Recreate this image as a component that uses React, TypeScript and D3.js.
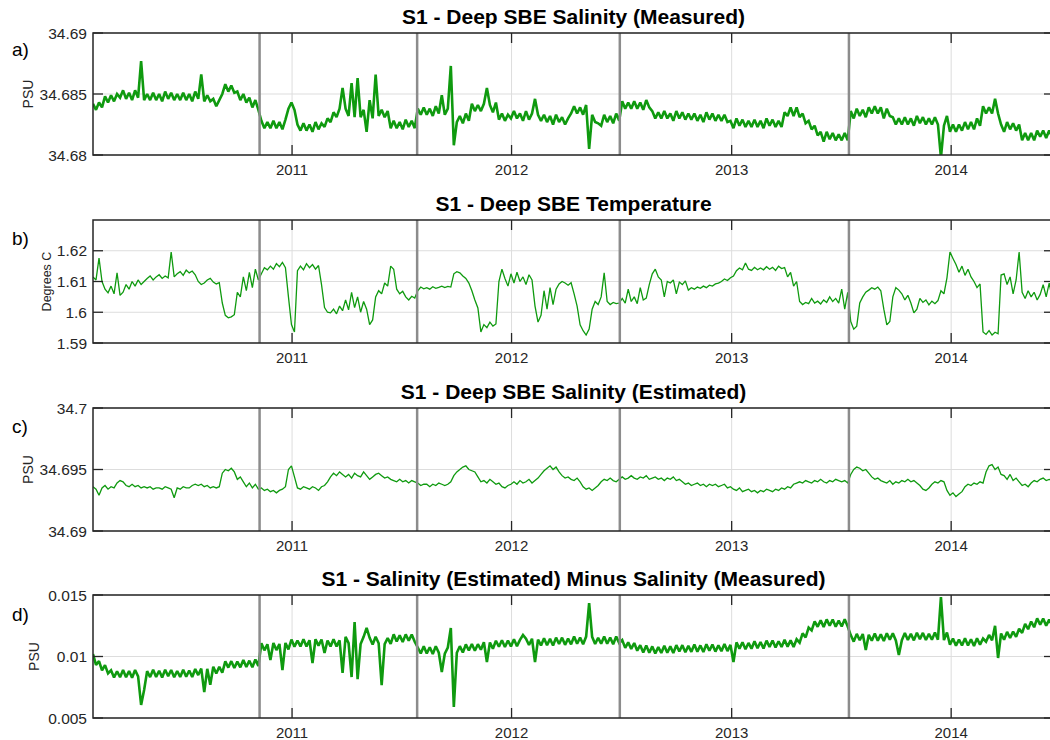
import React from 'react';
import * as d3 from 'd3';

// samples every 5 days from 2010-02-04
const SAMPLE_START = new Date(Date.UTC(2010, 1, 4));
const SAMPLE_STEP_DAYS = 5;

const yearTicks = ['2011-01-01', '2012-01-01', '2013-01-01', '2014-01-01'];
const yearLabels = ['2011', '2012', '2013', '2014'];
// mooring turn-around dates (thick grey lines)
const deploymentDates = ['2010-11-08', '2011-07-28', '2012-06-29', '2013-07-15'];

const titles = [
  'S1 - Deep SBE Salinity (Measured)',
  'S1 - Deep SBE Temperature',
  'S1 - Deep SBE Salinity (Estimated)',
  'S1 - Salinity (Estimated) Minus Salinity (Measured)',
];
const panelLabels = ['a)', 'b)', 'c)', 'd)'];
const yLabels = ['PSU', 'Degrees C', 'PSU', 'PSU'];

const ticksA = [34.68, 34.685, 34.69];
const ticksB = [1.59, 1.6, 1.61, 1.62];
const ticksC = [34.69, 34.695, 34.7];
const ticksD = [0.005, 0.01, 0.015];

const salinityMeasured = [
  34.6842, 34.6837, 34.6843, 34.6839, 34.6848, 34.6843, 34.6849, 34.6844, 34.685, 34.6847,
  34.6853, 34.6846, 34.6851, 34.6845, 34.6853, 34.6847, 34.6877, 34.6845, 34.685, 34.6845,
  34.6851, 34.6845, 34.685, 34.6844, 34.6852, 34.6846, 34.6851, 34.6845, 34.685, 34.6845,
  34.6851, 34.6845, 34.685, 34.6844, 34.6852, 34.6846, 34.6866, 34.6844, 34.6849, 34.6844,
  34.6846, 34.684, 34.6845, 34.685, 34.6858, 34.6852, 34.6857, 34.6851, 34.6852, 34.6845,
  34.685, 34.6843, 34.6847, 34.6839, 34.6845, 34.6837, 34.6828, 34.6822, 34.6827, 34.6822,
  34.6828, 34.6822, 34.6827, 34.6821, 34.6829, 34.6838, 34.6843, 34.6837, 34.6825, 34.682,
  34.6826, 34.682, 34.6825, 34.6819, 34.6827, 34.6821, 34.6826, 34.6823, 34.683, 34.6827,
  34.6835, 34.6831, 34.6838, 34.6855, 34.6838, 34.6832, 34.6859, 34.6831, 34.6863, 34.6831,
  34.6837, 34.6819, 34.6845, 34.683, 34.6866, 34.6832, 34.6837, 34.6831, 34.6836, 34.6822,
  34.6828, 34.6822, 34.6827, 34.6821, 34.6829, 34.6823, 34.6828, 34.6822, 34.6838, 34.6833,
  34.6839, 34.6833, 34.6838, 34.6832, 34.684, 34.6834, 34.6849, 34.6833, 34.6838, 34.6873,
  34.6808, 34.6827, 34.6832, 34.6826, 34.6834, 34.6828, 34.6842, 34.6836, 34.6841, 34.6836,
  34.6842, 34.6855, 34.6841, 34.6835, 34.6843, 34.6829, 34.6834, 34.6828, 34.6833, 34.683,
  34.6836, 34.683, 34.6834, 34.6828, 34.6836, 34.6829, 34.6834, 34.6846, 34.6833, 34.6828,
  34.6833, 34.6827, 34.6832, 34.6825, 34.6833, 34.6827, 34.6831, 34.6825, 34.683, 34.6834,
  34.684, 34.6834, 34.6839, 34.6833, 34.6841, 34.6805, 34.6833, 34.6827, 34.6826, 34.6824,
  34.6833, 34.6827, 34.6832, 34.6826, 34.6834, 34.6828, 34.6844, 34.6838, 34.6843, 34.6838,
  34.6844, 34.6838, 34.6843, 34.6837, 34.6845, 34.6839, 34.6836, 34.683, 34.6835, 34.683,
  34.6836, 34.683, 34.6834, 34.6828, 34.6836, 34.683, 34.6835, 34.6829, 34.6834, 34.6829,
  34.6834, 34.6828, 34.6833, 34.6827, 34.6835, 34.6829, 34.6834, 34.6828, 34.6833, 34.6828,
  34.6833, 34.6827, 34.6828, 34.6822, 34.683, 34.6824, 34.6829, 34.6823, 34.6828, 34.6823,
  34.6829, 34.6823, 34.6828, 34.6822, 34.683, 34.6824, 34.6829, 34.6823, 34.6828, 34.6823,
  34.6835, 34.6832, 34.6839, 34.6832, 34.6839, 34.6831, 34.6834, 34.6826, 34.6828, 34.6821,
  34.6824, 34.6816, 34.6819, 34.6811, 34.6819, 34.6813, 34.6818, 34.6812, 34.6817, 34.6812,
  34.6818, 34.6812, 34.6836, 34.683, 34.6838, 34.6832, 34.6837, 34.6831, 34.6839, 34.6834,
  34.684, 34.6834, 34.6839, 34.683, 34.6838, 34.6832, 34.6831, 34.6825, 34.683, 34.6825,
  34.6831, 34.6825, 34.683, 34.6824, 34.6832, 34.6826, 34.6831, 34.6825, 34.683, 34.6825,
  34.6831, 34.6825, 34.6798, 34.6824, 34.6832, 34.6819, 34.6825, 34.6819, 34.6825, 34.682,
  34.6827, 34.6821, 34.6827, 34.6821, 34.683, 34.6824, 34.684, 34.6834, 34.6839, 34.6834,
  34.6846, 34.6834, 34.6825, 34.6819, 34.6827, 34.6821, 34.6826, 34.682, 34.6825, 34.6812,
  34.6818, 34.6812, 34.6818, 34.6812, 34.682, 34.6815, 34.682, 34.6814, 34.682, 34.6815,
];

const temperature = [
  1.6115, 1.6105, 1.6176, 1.61, 1.6075, 1.6063, 1.6085, 1.606, 1.6128, 1.6055,
  1.6065, 1.609, 1.6075, 1.61, 1.6085, 1.6105, 1.609, 1.61, 1.611, 1.6118,
  1.6105, 1.6115, 1.6122, 1.611, 1.6118, 1.6112, 1.6196, 1.6115, 1.6125, 1.6132,
  1.612, 1.6137, 1.6128, 1.6134, 1.6122, 1.61, 1.609, 1.6095, 1.6105, 1.611,
  1.6098, 1.6092, 1.6096, 1.603, 1.599, 1.5982, 1.5985, 1.5992, 1.6065, 1.605,
  1.6115, 1.607, 1.613, 1.608, 1.614, 1.6105, 1.6125, 1.6145, 1.6138, 1.615,
  1.614, 1.6158, 1.6148, 1.6162, 1.6145, 1.605, 1.596, 1.5936, 1.6135, 1.615,
  1.6138, 1.6158, 1.6145, 1.6155, 1.614, 1.6152, 1.609, 1.6015, 1.6, 1.5998,
  1.601, 1.5995, 1.602, 1.6005, 1.604, 1.6008, 1.6065, 1.6015, 1.605, 1.6,
  1.6035, 1.601, 1.596, 1.5975, 1.605, 1.607, 1.606, 1.6095, 1.6085, 1.615,
  1.614, 1.6075, 1.606, 1.6068, 1.605, 1.604, 1.6052, 1.6046, 1.607, 1.6082,
  1.6076, 1.608, 1.6075, 1.6083, 1.6078, 1.6081, 1.6085, 1.608, 1.6084, 1.6082,
  1.6125, 1.6132, 1.6128, 1.6118, 1.611, 1.6095, 1.607, 1.604, 1.6014, 1.5936,
  1.596, 1.595, 1.5968, 1.5955, 1.5962, 1.61, 1.614, 1.611, 1.6085, 1.6125,
  1.6095, 1.613, 1.61, 1.6115, 1.609, 1.6122, 1.6105, 1.602, 1.5968, 1.599,
  1.607, 1.601, 1.608, 1.6025, 1.6075, 1.6092, 1.61, 1.6095, 1.6088, 1.6096,
  1.606, 1.602, 1.5959, 1.594, 1.5926, 1.5945, 1.601, 1.6035, 1.6025, 1.605,
  1.6128, 1.6035, 1.6025, 1.6032, 1.6028, 1.603, 1.6045, 1.603, 1.6075, 1.6035,
  1.605, 1.6028, 1.608, 1.604, 1.6046, 1.609, 1.6125, 1.614, 1.6115, 1.6105,
  1.605, 1.61, 1.6095, 1.6105, 1.606, 1.6098, 1.609, 1.6102, 1.6072, 1.608,
  1.6075, 1.6082, 1.6078, 1.6085, 1.608, 1.6088, 1.6085, 1.6092, 1.6095, 1.61,
  1.6108, 1.6103, 1.6112, 1.6118, 1.6135, 1.6144, 1.6138, 1.616, 1.614, 1.6136,
  1.6146, 1.6138, 1.6144, 1.6138, 1.6148, 1.614, 1.6146, 1.6136, 1.615, 1.6142,
  1.6145, 1.6115, 1.613, 1.6085, 1.61, 1.6035, 1.6025, 1.6032, 1.6028, 1.6045,
  1.603, 1.6036, 1.6027, 1.604, 1.6032, 1.605, 1.6035, 1.6045, 1.603, 1.6075,
  1.601, 1.6065, 1.597, 1.5945, 1.5955, 1.603, 1.605, 1.6065, 1.6072, 1.608,
  1.6075, 1.6082, 1.607, 1.601, 1.5959, 1.597, 1.605, 1.608, 1.6072, 1.606,
  1.604, 1.6055, 1.603, 1.5998, 1.601, 1.6045, 1.6032, 1.604, 1.6024, 1.6036,
  1.6028, 1.6038, 1.607, 1.606, 1.6112, 1.6196, 1.6175, 1.6155, 1.613, 1.615,
  1.612, 1.614, 1.6115, 1.61, 1.608, 1.6092, 1.5936, 1.5928, 1.594, 1.5926,
  1.5935, 1.593, 1.6121, 1.6125, 1.609, 1.6115, 1.606, 1.6105, 1.6196, 1.6065,
  1.6045, 1.607, 1.605, 1.6065, 1.604, 1.6058, 1.609, 1.605, 1.6095, 1.6046,
];

const salinityEstimated = [
  34.6936, 34.6934, 34.6929, 34.6935, 34.6937, 34.6934, 34.6936, 34.6935, 34.6939, 34.6941,
  34.694, 34.6937, 34.6936, 34.6938, 34.6936, 34.6937, 34.6935, 34.6936, 34.6935, 34.6936,
  34.6934, 34.6935, 34.6935, 34.6934, 34.6936, 34.6935, 34.6934, 34.6927, 34.6935, 34.6934,
  34.6936, 34.6935, 34.6935, 34.6937, 34.6938, 34.6937, 34.6938, 34.6936, 34.6937, 34.6935,
  34.6936, 34.6935, 34.6936, 34.6947, 34.695, 34.6949, 34.6951, 34.6948, 34.6942, 34.6944,
  34.694, 34.6936, 34.6939, 34.6935, 34.6938, 34.6934, 34.6935, 34.6933, 34.6934, 34.6932,
  34.6933, 34.6931, 34.6933, 34.6934, 34.6936, 34.695, 34.6953, 34.6944, 34.6935, 34.6934,
  34.6936, 34.6935, 34.6934, 34.6936, 34.6935, 34.6933, 34.6936, 34.6937, 34.694, 34.6944,
  34.6947, 34.6945, 34.6948, 34.6946, 34.6944, 34.6946, 34.6943, 34.6947, 34.6945, 34.6944,
  34.6948, 34.6945, 34.6942, 34.6944, 34.6946, 34.6947, 34.6945, 34.6943, 34.6944, 34.6942,
  34.6941, 34.694, 34.6942, 34.694, 34.6941, 34.6939, 34.6941, 34.694, 34.6939, 34.6937,
  34.6938, 34.6938, 34.6936, 34.6938, 34.6937, 34.6939, 34.6938, 34.6937, 34.6938, 34.694,
  34.6945, 34.6948, 34.695, 34.6952, 34.6953, 34.695, 34.6949, 34.6948, 34.6944, 34.694,
  34.6941, 34.6939, 34.6942, 34.694, 34.6938, 34.6939, 34.6936, 34.6935, 34.6937, 34.6938,
  34.694, 34.6938, 34.6941, 34.6939, 34.694, 34.6942, 34.6939, 34.6941, 34.6943, 34.6946,
  34.6949, 34.6951, 34.6953, 34.695, 34.6952, 34.6948, 34.6945, 34.6943, 34.6944, 34.6942,
  34.6941, 34.6943, 34.694, 34.6936, 34.6934, 34.6935, 34.6933, 34.6935, 34.6937, 34.694,
  34.6942, 34.6941, 34.6943, 34.6941, 34.694, 34.6942, 34.6944, 34.6942, 34.6943, 34.6945,
  34.6943, 34.6942, 34.6944, 34.6943, 34.6945, 34.6942, 34.6943, 34.6944, 34.6942, 34.6943,
  34.6941, 34.6943, 34.6942, 34.6944, 34.6941, 34.6942, 34.694, 34.6938, 34.6939, 34.6937,
  34.6938, 34.6939, 34.6937, 34.6938, 34.6936, 34.6938, 34.6937, 34.6938, 34.6936, 34.6937,
  34.6938, 34.6935, 34.6936, 34.6934, 34.6933, 34.6935, 34.6932, 34.6933, 34.6934, 34.6932,
  34.6933, 34.6931, 34.6933, 34.6932, 34.6934, 34.6933, 34.6932, 34.6934, 34.6933, 34.6935,
  34.6934, 34.6936, 34.6935, 34.6938, 34.6939, 34.694, 34.6939, 34.6941, 34.694, 34.6939,
  34.6941, 34.694, 34.6942, 34.694, 34.6939, 34.6941, 34.694, 34.6942, 34.6941, 34.694,
  34.6941, 34.6939, 34.6946, 34.695, 34.6952, 34.6951, 34.6949, 34.695, 34.6947, 34.6944,
  34.6942, 34.6943, 34.6941, 34.694, 34.6939, 34.6941, 34.6938, 34.694, 34.6939, 34.6941,
  34.694, 34.6942, 34.694, 34.6941, 34.6939, 34.6937, 34.6934, 34.6933, 34.6935, 34.6938,
  34.694, 34.6939, 34.6941, 34.694, 34.6933, 34.6929, 34.6931, 34.6928, 34.693, 34.6932,
  34.6936, 34.6938, 34.6937, 34.6939, 34.6938, 34.694, 34.6939, 34.6948, 34.6953, 34.6954,
  34.695, 34.6952, 34.6946, 34.6945, 34.6942, 34.6946, 34.6941, 34.6943, 34.694, 34.6937,
  34.6938, 34.6936, 34.6939, 34.6941, 34.694, 34.6942, 34.6943, 34.6941, 34.6942, 34.6941,
];

const salinityDifference = [
  0.0102, 0.00932, 0.00962, 0.00888, 0.0093, 0.00863, 0.00888, 0.0083, 0.0088, 0.00832,
  0.0089, 0.00832, 0.00882, 0.00828, 0.0089, 0.00838, 0.00606, 0.00728, 0.00881, 0.00833,
  0.00892, 0.00834, 0.00884, 0.0083, 0.00892, 0.0084, 0.0089, 0.00832, 0.00882, 0.00834,
  0.00893, 0.00835, 0.00886, 0.00833, 0.00898, 0.00849, 0.00902, 0.00711, 0.009, 0.0077,
  0.00916, 0.00862, 0.00917, 0.00868, 0.0096, 0.0091, 0.00962, 0.00906, 0.00958, 0.00912,
  0.00972, 0.00915, 0.00966, 0.00912, 0.00975, 0.00923, 0.01108, 0.0105, 0.011, 0.00972,
  0.0111, 0.01052, 0.01102, 0.0089, 0.0111, 0.01058, 0.01138, 0.0108, 0.0113, 0.01082,
  0.0114, 0.01082, 0.01132, 0.00947, 0.0114, 0.01088, 0.01138, 0.01028, 0.0113, 0.01082,
  0.0114, 0.01082, 0.01132, 0.00866, 0.0116, 0.01108, 0.00833, 0.0128, 0.00815, 0.01102,
  0.0116, 0.01232, 0.01152, 0.01098, 0.0116, 0.01108, 0.00768, 0.011, 0.0115, 0.01102,
  0.0118, 0.01122, 0.01172, 0.01118, 0.0118, 0.01128, 0.01178, 0.0112, 0.01073, 0.01025,
  0.01083, 0.01025, 0.01075, 0.01021, 0.01083, 0.01031, 0.00874, 0.01023, 0.01073, 0.01232,
  0.00589, 0.0103, 0.01084, 0.01033, 0.01098, 0.01049, 0.01102, 0.01047, 0.011, 0.01055,
  0.01116, 0.00955, 0.01114, 0.01063, 0.01128, 0.01079, 0.01132, 0.01077, 0.0113, 0.01082,
  0.01141, 0.01084, 0.01135, 0.01175, 0.01144, 0.01093, 0.01144, 0.00955, 0.01137, 0.0109,
  0.01149, 0.01092, 0.01143, 0.0109, 0.01153, 0.01102, 0.01153, 0.01095, 0.01146, 0.01099,
  0.01162, 0.01104, 0.01154, 0.011, 0.01162, 0.01435, 0.0116, 0.01102, 0.01152, 0.01104,
  0.01162, 0.01104, 0.01154, 0.011, 0.01162, 0.0111, 0.01133, 0.0107, 0.01115, 0.01062,
  0.0111, 0.01047, 0.01092, 0.01033, 0.0109, 0.01031, 0.01082, 0.01025, 0.01076, 0.01029,
  0.01088, 0.01031, 0.01082, 0.01029, 0.01092, 0.01041, 0.01092, 0.01035, 0.01086, 0.01038,
  0.01097, 0.01039, 0.0109, 0.01036, 0.01099, 0.01047, 0.01098, 0.0104, 0.01091, 0.01043,
  0.01102, 0.01044, 0.01094, 0.00955, 0.01115, 0.01064, 0.01116, 0.01059, 0.0111, 0.01064,
  0.01123, 0.01067, 0.01118, 0.01065, 0.01129, 0.01078, 0.0113, 0.01073, 0.01124, 0.01078,
  0.01137, 0.0108, 0.01131, 0.01078, 0.0114, 0.01113, 0.01188, 0.01155, 0.01235, 0.01212,
  0.01285, 0.01242, 0.01294, 0.0124, 0.01302, 0.0125, 0.013, 0.01242, 0.01292, 0.01244,
  0.01302, 0.01244, 0.01174, 0.01121, 0.01184, 0.01132, 0.01183, 0.01053, 0.01176, 0.01128,
  0.01187, 0.01129, 0.0118, 0.01126, 0.01189, 0.01137, 0.01188, 0.0113, 0.01012, 0.01133,
  0.01191, 0.01134, 0.01184, 0.01131, 0.01193, 0.01141, 0.01192, 0.01134, 0.01184, 0.01137,
  0.01195, 0.01137, 0.01484, 0.01133, 0.01195, 0.01096, 0.01146, 0.01088, 0.01138, 0.0109,
  0.01148, 0.0109, 0.0114, 0.01086, 0.01148, 0.01096, 0.01146, 0.0112, 0.01175, 0.01132,
  0.0125, 0.00988, 0.01187, 0.01136, 0.012, 0.0115, 0.01203, 0.0116, 0.01225, 0.01192,
  0.01265, 0.01222, 0.01284, 0.01238, 0.0131, 0.01258, 0.01308, 0.0125, 0.013, 0.01252,
];

const W = 1050;
const H = 740;
const LEFT = 93;
const RIGHT = 1054;
const FONT = "'Liberation Sans', Arial, Helvetica, sans-serif";
const INK = '#262626';
const GREEN = '#0f9a0f';

// the noisy records (a, d) get a heavier pen so the zig-zag closes into a band
const panels = [
  { values: salinityMeasured, domain: [34.68, 34.69], ticks: ticksA, top: 33, bottom: 155, labelY: 56, yLabelX: 28, yLabelSize: 14, stroke: 2.6 },
  { values: temperature, domain: [1.59, 1.63], ticks: ticksB, top: 220, bottom: 343, labelY: 245, yLabelX: 46, yLabelSize: 12.5, stroke: 1.3 },
  { values: salinityEstimated, domain: [34.69, 34.7], ticks: ticksC, top: 408, bottom: 531, labelY: 433, yLabelX: 28, yLabelSize: 14, stroke: 1.3 },
  { values: salinityDifference, domain: [0.005, 0.015], ticks: ticksD, top: 595, bottom: 718, labelY: 621, yLabelX: 34, yLabelSize: 14, stroke: 2.6 },
];

const x = d3.scaleUtc()
  .domain([SAMPLE_START, new Date(Date.UTC(2014, 5, 21))])
  .range([LEFT, RIGHT]);

const sampleDate = (i: number) => d3.utcDay.offset(SAMPLE_START, i * SAMPLE_STEP_DAYS);

const Panel = ({ p, idx }: { p: any; idx: number }) => {
  const y = d3.scaleLinear().domain(p.domain).range([p.bottom, p.top]);
  const line = d3.line<number>()
    .x((_, i) => x(sampleDate(i)))
    .y(v => y(v));
  const clipId = `clip-${idx}`;
  const yearX = yearTicks.map(d => x(new Date(d)));
  const depX = deploymentDates.map(d => x(new Date(d)));
  const midY = (p.top + p.bottom) / 2;

  return (
    <g>
      <defs>
        <clipPath id={clipId}>
          <rect x={LEFT} y={p.top} width={RIGHT - LEFT} height={p.bottom - p.top} />
        </clipPath>
      </defs>
      {/* grid */}
      {yearX.map((gx, i) => (
        <line key={`gx${i}`} x1={gx} x2={gx} y1={p.top} y2={p.bottom} stroke="#dddddd" strokeWidth={1} />
      ))}
      {p.ticks.map((t: number, i: number) => (
        <line key={`gy${i}`} x1={LEFT} x2={RIGHT} y1={y(t)} y2={y(t)} stroke="#dddddd" strokeWidth={1} />
      ))}
      {/* data */}
      <path d={line(p.values) || ''} fill="none" stroke={GREEN} strokeWidth={p.stroke}
        strokeLinejoin="miter" strokeMiterlimit={2} clipPath={`url(#${clipId})`} />
      {/* deployment boundaries */}
      {depX.map((dx, i) => (
        <line key={`dp${i}`} x1={dx} x2={dx} y1={p.top} y2={p.bottom} stroke="#8c8c8c" strokeWidth={2.5} />
      ))}
      {/* ticks */}
      {yearX.map((gx, i) => (
        <g key={`tx${i}`}>
          <line x1={gx} x2={gx} y1={p.bottom} y2={p.bottom - 10} stroke={INK} strokeWidth={1.3} />
          <line x1={gx} x2={gx} y1={p.top} y2={p.top + 10} stroke={INK} strokeWidth={1.3} />
          <text x={gx} y={p.bottom + 20} textAnchor="middle" fontSize={15} fill={INK}>{yearLabels[i]}</text>
        </g>
      ))}
      {p.ticks.map((t: number, i: number) => (
        <g key={`ty${i}`}>
          <line x1={LEFT} x2={LEFT + 10} y1={y(t)} y2={y(t)} stroke={INK} strokeWidth={1.3} />
          <line x1={RIGHT} x2={RIGHT - 10} y1={y(t)} y2={y(t)} stroke={INK} strokeWidth={1.3} />
          <text x={87} y={y(t)} dy="0.36em" textAnchor="end" fontSize={15.5} fill={INK}>{String(t)}</text>
        </g>
      ))}
      {/* frame */}
      <rect x={LEFT} y={p.top} width={RIGHT - LEFT} height={p.bottom - p.top} fill="none" stroke={INK} strokeWidth={1.5} />
      {/* title, labels */}
      <text x={(LEFT + RIGHT) / 2} y={p.top - 9} textAnchor="middle" fontSize={21} fontWeight="bold" fill="#000">
        {titles[idx]}
      </text>
      <text x={12} y={p.labelY} fontSize={19} fill="#000">{panelLabels[idx]}</text>
      <text transform={`translate(${p.yLabelX},${midY}) rotate(-90)`} textAnchor="middle" dy="0.36em"
        fontSize={p.yLabelSize} fill={INK}>{yLabels[idx]}</text>
    </g>
  );
};

export default function App() {
  return (
    <svg width={W} height={H} viewBox={`0 0 ${W} ${H}`} fontFamily={FONT}
      style={{ position: 'absolute', left: 0, top: 0, background: '#fff' }}>
      <rect width={W} height={H} fill="#fff" />
      {panels.map((p, i) => <Panel key={i} p={p} idx={i} />)}
    </svg>
  );
}
